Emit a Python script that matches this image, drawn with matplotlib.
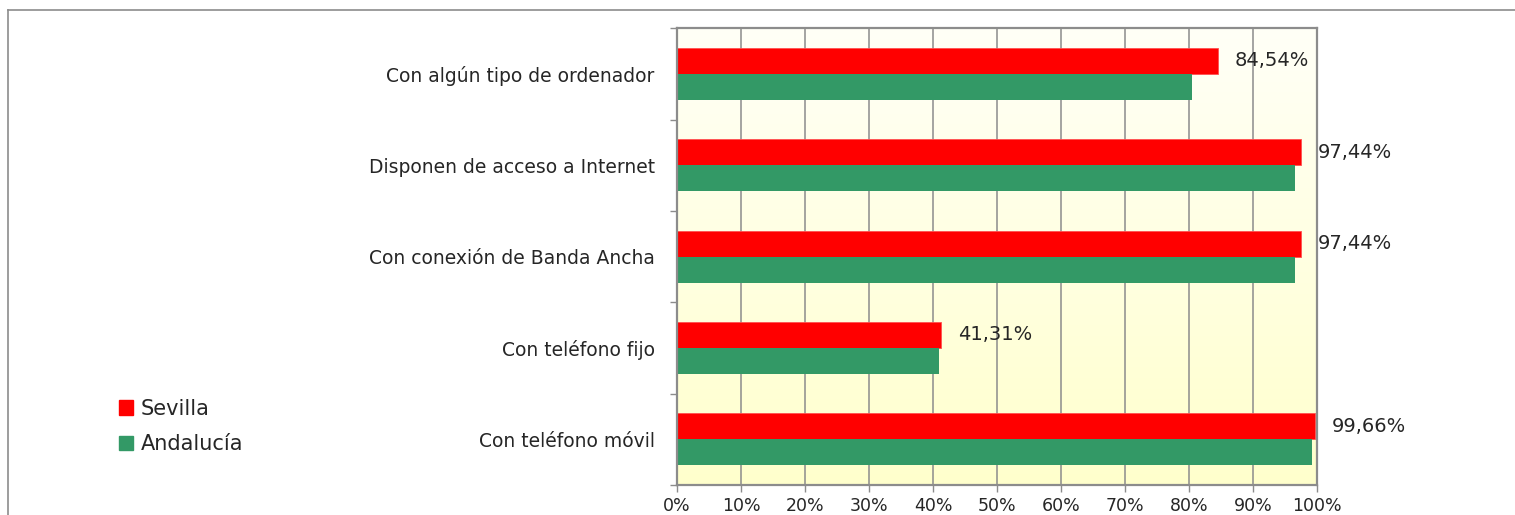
import numpy as np
import matplotlib
matplotlib.use("Agg")
import matplotlib.pyplot as plt
from matplotlib.patches import Patch
from matplotlib.lines import Line2D
from matplotlib.colors import LinearSegmentedColormap

categories = ["Con algún tipo de ordenador", "Disponen de acceso a Internet",
              "Con conexión de Banda Ancha", "Con teléfono fijo", "Con teléfono móvil"]
sevilla = [84.54, 97.44, 97.44, 41.31, 99.66]
andalucia = [80.4, 96.6, 96.6, 40.9, 99.2]
sevilla_labels = ["84,54%", "97,44%", "97,44%", "41,31%", "99,66%"]
x_ticks = [0, 10, 20, 30, 40, 50, 60, 70, 80, 90, 100]

RED = "#FF0000"
GREEN = "#339966"
GRID = "#8c8c8c"
TEXT = "#262626"

plt.rcParams['font.family'] = ['DejaVu Sans']

fig = plt.figure(figsize=(15.15, 5.15), dpi=100)
ax = fig.add_axes([0.4469, 0.0583, 0.4224, 0.8867])

# background gradient (near white at top -> light yellow at bottom)
cmap = LinearSegmentedColormap.from_list("bg", ["#FFFFF7", "#FFFFCC"])
grad = np.linspace(0, 1, 256).reshape(-1, 1)
ax.imshow(grad, cmap=cmap, aspect="auto", extent=[0, 1, 0, 1],
          transform=ax.transAxes, zorder=0)

y = np.arange(len(categories))
h = 0.285
ax.barh(y - h / 2, sevilla, height=h, color=RED, edgecolor="#ff5050", linewidth=0.6, zorder=3)
ax.barh(y + h / 2, andalucia, height=h, color=GREEN, zorder=3)

for yi, v, lab in zip(y, sevilla, sevilla_labels):
    ax.annotate(lab, (v, yi - h / 2), xytext=(12, 0), textcoords="offset points",
                va="center", ha="left", fontsize=14, color=TEXT, zorder=5,
                annotation_clip=False)

ax.set_xlim(0, 100)
ax.set_ylim(len(categories) - 0.5, -0.5)
ax.set_xticks(x_ticks)
ax.set_xticklabels([f"{t}%" for t in x_ticks], fontsize=12.5, color=TEXT)
ax.xaxis.grid(True, color=GRID, linewidth=1.1, zorder=1)
ax.set_axisbelow(True)

ax.set_yticks(y)
ax.set_yticklabels(categories, fontsize=13.5, color=TEXT)
ax.set_yticks(np.arange(-0.5, len(categories)), minor=True)
ax.tick_params(axis="y", which="major", length=0, pad=16)
ax.tick_params(axis="y", which="minor", length=5, color=GRID, width=1)
ax.tick_params(axis="x", length=5, color=GRID, width=1, pad=3.5)

for s in ax.spines.values():
    s.set_color(GRID)
    s.set_linewidth(1.6)
    s.set_zorder(4)

# outer chart frame (top and left lines)
fig.add_artist(Line2D([8 / 1515, 1], [1 - 10 / 515, 1 - 10 / 515],
                      transform=fig.transFigure, color="#8c8c8c", linewidth=1.2))
fig.add_artist(Line2D([8 / 1515, 8 / 1515], [0, 1 - 10 / 515],
                      transform=fig.transFigure, color="#8c8c8c", linewidth=1.2))

handles = [Patch(color=RED, label="Sevilla"), Patch(color=GREEN, label="Andalucía")]
fig.legend(handles=handles, loc="upper left", bbox_to_anchor=(0.066, 0.262),
           frameon=False, fontsize=15, handlelength=0.7, handleheight=0.7,
           handletextpad=0.35, labelspacing=0.75, labelcolor=TEXT)

fig.savefig("out.png", dpi=100)
